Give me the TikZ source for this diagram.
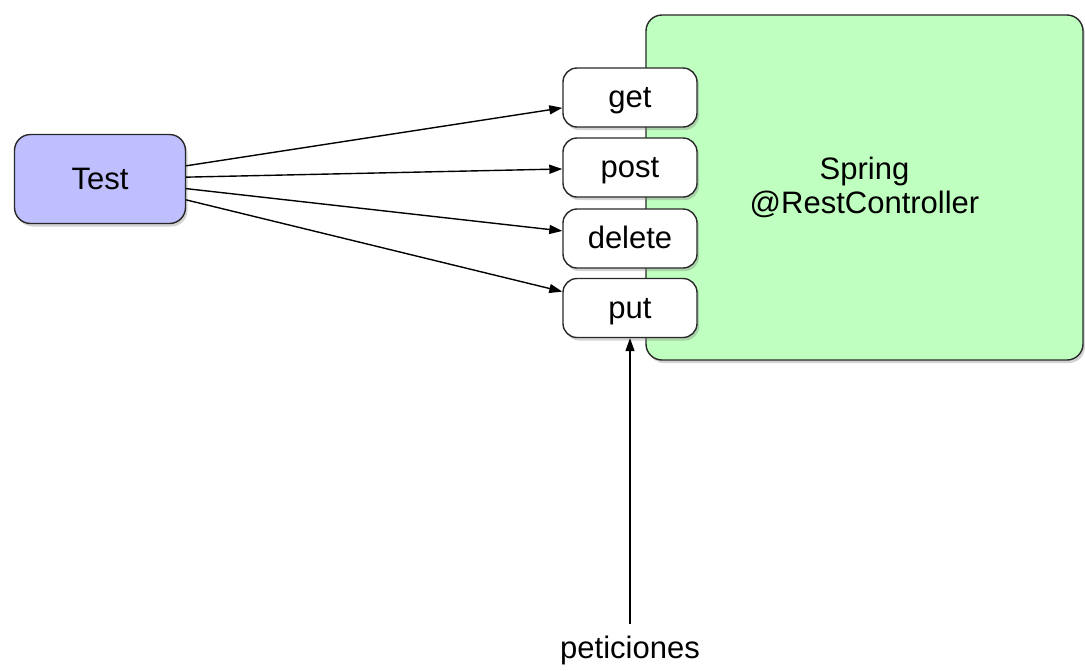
\documentclass[tikz,border=0pt]{standalone}
\usepackage{fontspec}
\setmainfont{Liberation Sans}
\usepackage{xcolor}
\usetikzlibrary{positioning,arrows.meta,shadows}

\definecolor{testfill}{RGB}{191,191,255}
\definecolor{springfill}{RGB}{191,255,191}
\definecolor{edge}{RGB}{40,40,40}

\begin{document}
\begin{tikzpicture}[
  x=1pt, y=-1pt,
  font=\fontsize{31}{37}\selectfont, >={Triangle[length=13pt,width=9pt]},
  box/.style={draw=edge, line width=1.4pt, rounded corners=16pt, align=center, inner sep=0pt,
              drop shadow={opacity=0.35, shadow xshift=2pt, shadow yshift=-3pt}},
  client/.style={box, fill=testfill, minimum width=171pt, minimum height=89pt},
  server/.style={box, fill=springfill, minimum width=437pt, minimum height=345pt},
  method/.style={box, fill=white, rounded corners=14pt, minimum width=134pt, minimum height=59pt,
                 text height=26pt, text depth=6pt},
  msg/.style={->, line width=1.4pt},
  lbl/.style={inner sep=4pt},
]
\useasboundingbox (0,0) rectangle (1085,670);
\node[server] (spring) at (864.5,187.5) {Spring\\[-3pt]@RestController};
\node[client] (test) at (100,179) {Test};
\foreach \m/\y in {get/97.5,post/167.5,delete/238.5,put/308}
  \node[method] (\m) at (630,\y) {\m};
\foreach \m in {get,post,delete,put}
  \draw[msg] (test) -- (\m);
\node[lbl] (req) at (630,650) {peticiones};
\draw[msg] ([yshift=7pt]req.north) -- (put.south);
\end{tikzpicture}
\end{document}
